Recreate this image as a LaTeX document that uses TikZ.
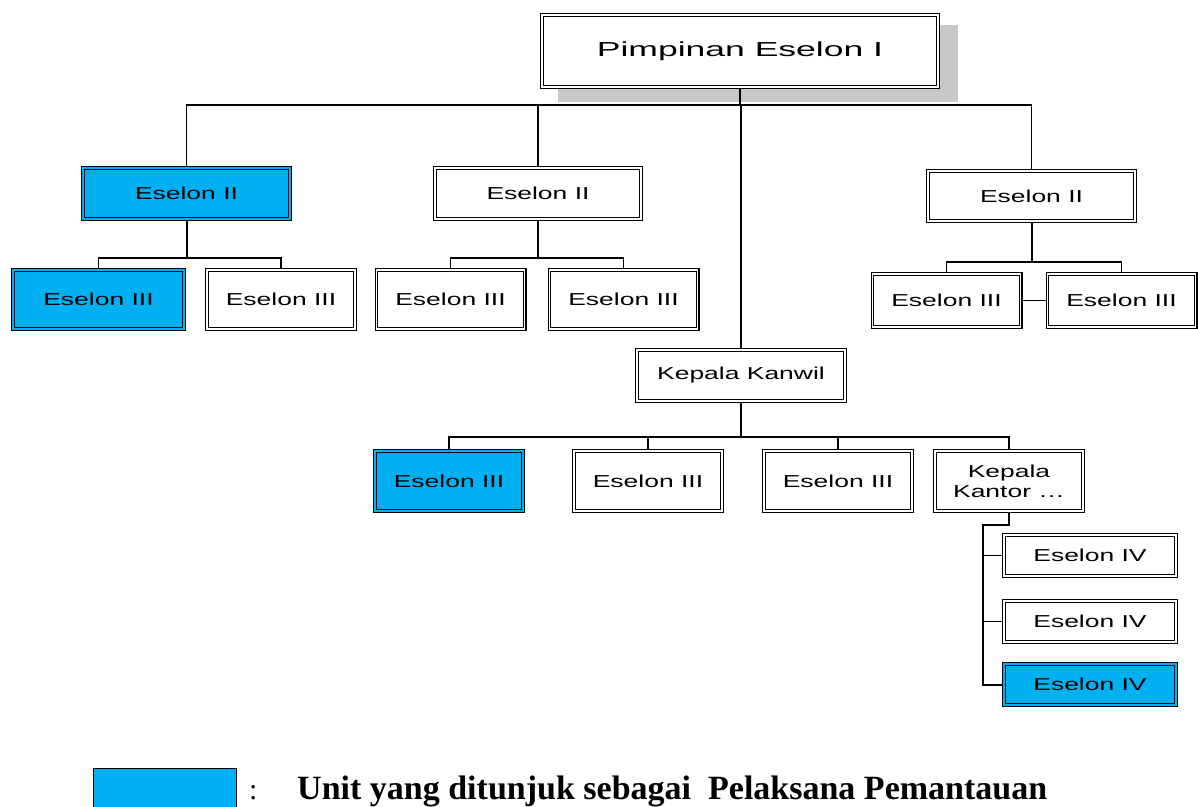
\documentclass[tikz,border=0pt]{standalone}
\usepackage{fontspec}
\setmainfont{Liberation Sans}
\newfontfamily\boxfont[FakeStretch=1.53]{Liberation Sans}
\newfontfamily\topfont[FakeStretch=1.75]{Liberation Sans}
\newfontfamily\legfont{Liberation Serif}
\usetikzlibrary{backgrounds}
\definecolor{unitblue}{HTML}{00B0F0}
\definecolor{shadowgray}{HTML}{C8C8C8}
\begin{document}
\begin{tikzpicture}[x=1pt,y=-1pt,
  box/.style={draw=black, line width=1.2pt, double=white, double distance=1.4pt,
    fill=white, inner sep=0pt, align=center,
    font=\boxfont\fontsize{17.3}{20}\selectfont},
  bluebox/.style={box, double=unitblue, fill=unitblue},
  conn/.style={line width=1.2pt},
  trunk/.style={line width=2pt}]
\useasboundingbox (0,0) rectangle (1198,806);

% top
\node[box, font=\topfont\fontsize{20.3}{24}\selectfont, minimum width=396.2, minimum height=72.2] (top) at (740,51) {Pimpinan Eselon I};

% eselon II
\node[bluebox, minimum width=207.2, minimum height=51.2] (e2a) at (186.5,193.5) {Eselon II};
\node[box, minimum width=206.2, minimum height=51.2] (e2b) at (538,193.5) {Eselon II};
\node[box, minimum width=207.2, minimum height=50.2] (e2c) at (1031.5,196) {Eselon II};

% eselon III under eselon II
\node[bluebox, minimum width=171.2, minimum height=59.2] (e3a) at (98.5,299.5) {Eselon III};
\node[box, minimum width=148.2, minimum height=59.2] (e3b) at (281,299.5) {Eselon III};
\node[box, minimum width=148.2, minimum height=59.2] (e3c) at (450.5,299.5) {Eselon III};
\node[box, minimum width=148.2, minimum height=59.2] (e3d) at (623.5,299.5) {Eselon III};
\node[box, minimum width=148.2, minimum height=53.2] (e3e) at (946.5,300.5) {Eselon III};
\node[box, minimum width=148.2, minimum height=53.2] (e3f) at (1121.5,300.5) {Eselon III};

% kanwil
\node[box, minimum width=208.2, minimum height=51.2] (kanwil) at (741,375.5) {Kepala Kanwil};
\node[bluebox, minimum width=148.2, minimum height=60.2] (e3g) at (449,481) {Eselon III};
\node[box, minimum width=148.2, minimum height=60.2] (e3h) at (648,481) {Eselon III};
\node[box, minimum width=148.2, minimum height=60.2] (e3i) at (838,481) {Eselon III};
\node[box, minimum width=148.2, minimum height=60.2] (kantor) at (1009,481) {Kepala\\Kantor \dots};

% eselon IV
\node[box, minimum width=172.2, minimum height=41.2] (e4a) at (1090,555.5) {Eselon IV};
\node[box, minimum width=172.2, minimum height=41.2] (e4b) at (1090,621.5) {Eselon IV};
\node[bluebox, minimum width=172.2, minimum height=41.2] (e4c) at (1090,684.5) {Eselon IV};

\coordinate (b1) at (740,105);
\coordinate (b2a) at (186,258);
\coordinate (b2c) at (1031,262);
\coordinate (b3) at (741,437);
\coordinate (k1) at (983,525);

\begin{scope}[on background layer]
  \fill[shadowgray] (558,25) rectangle (958,102);
  \draw[trunk] (top.south) -- (top.south |- b1);
  \draw[conn] (e2a.north) -- (e2a.north |- b1) -- (e2c.north |- b1) -- (e2c.north);
  \draw[conn] (e2b.north) -- (e2b.north |- b1);
  \draw[conn] (kanwil.north) -- (kanwil.north |- b1);
  % under eselon II
  \draw[trunk] (e2a.south) -- (e2a.south |- b2a);
  \draw[conn] (e3a.north) -- (e3a.north |- b2a) -- (e3b.north |- b2a) -- (e3b.north);
  \draw[trunk] (e2b.south) -- (e2b.south |- b2a);
  \draw[conn] (e3c.north) -- (e3c.north |- b2a) -- (e3d.north |- b2a) -- (e3d.north);
  \draw[trunk] (e2c.south) -- (e2c.south |- b2c);
  \draw[conn] (e3e.north) -- (e3e.north |- b2c) -- (e3f.north |- b2c) -- (e3f.north);
  \draw[conn] (e3e.east) -- (e3f.west);
  % under kanwil
  \draw[trunk] (kanwil.south) -- (kanwil.south |- b3);
  \draw[conn] (e3g.north) -- (e3g.north |- b3) -- (kantor.north |- b3) -- (kantor.north);
  \draw[conn] (e3h.north) -- (e3h.north |- b3);
  \draw[conn] (e3i.north) -- (e3i.north |- b3);
  % under kantor
  \draw[trunk] (kantor.south) |- (k1) -- (k1 |- e4c.west) -- (e4c.west);
  \draw[conn] (k1 |- e4a.west) -- (e4a.west);
  \draw[conn] (k1 |- e4b.west) -- (e4b.west);
\end{scope}

% legend
\node[draw=black, line width=1.2pt, fill=unitblue, minimum width=143, minimum height=48, inner sep=0pt, anchor=north west] (leg) at (92.6,767.6) {};
\node[anchor=base west, inner sep=0pt, font=\legfont\fontsize{30}{36}\selectfont] (colon) at (249,799) {:};
\node[anchor=base west, inner sep=0pt, font=\legfont\bfseries\fontsize{34}{40}\selectfont] (legtext) at (297,799) {Unit yang ditunjuk sebagai\ \ Pelaksana Pemantauan};
\end{tikzpicture}
\end{document}
